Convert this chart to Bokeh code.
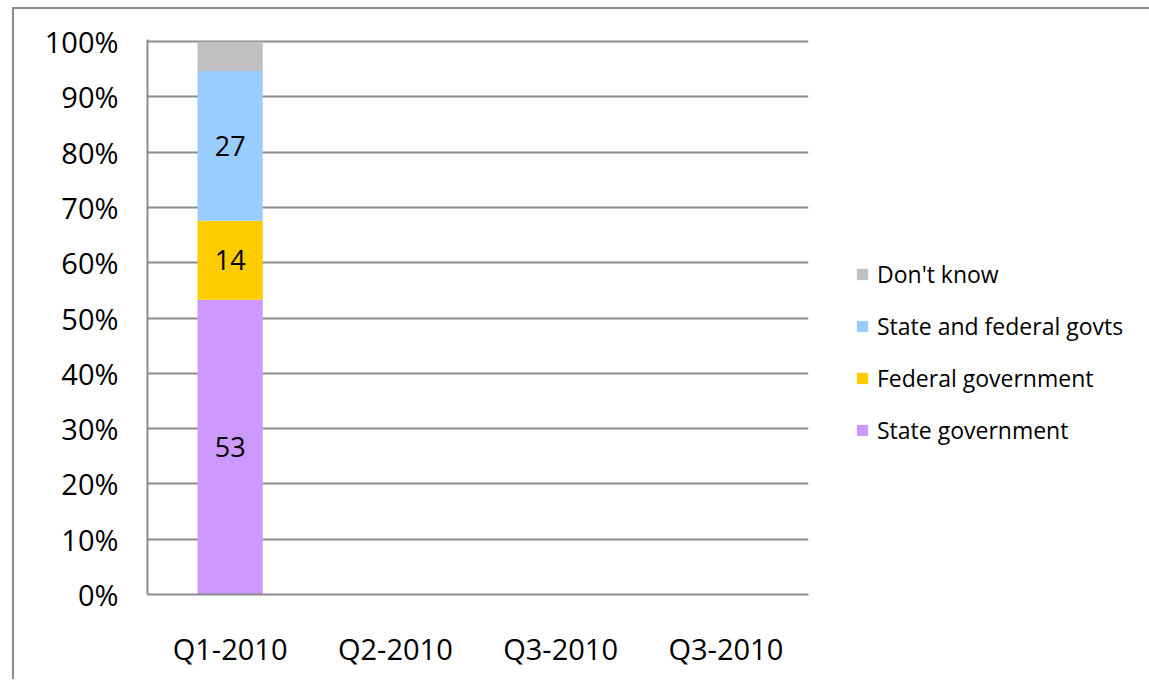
from bokeh.plotting import figure
from bokeh.models import (ColumnDataSource, Legend, LegendItem, FixedTicker,
                          PrintfTickFormatter, Range1d)
from bokeh.core.properties import value
from bokeh.embed import file_html
from bokeh.resources import INLINE

# ---- data ----
categories = ["Q1-2010", "Q2-2010", "Q3-2010", "Q3-2010"]
state_gov = [53.3, 0, 0, 0]
federal_gov = [14.3, 0, 0, 0]
state_and_federal = [27.1, 0, 0, 0]
dont_know = [5.3, 0, 0, 0]
series_names = ["State government", "Federal government",
                "State and federal govts", "Don't know"]
series_colors = ["#CC99FF", "#FFCC00", "#99CCFF", "#C0C0C0"]
y_ticks = [0, 10, 20, 30, 40, 50, 60, 70, 80, 90, 100]

FONT = "Open Sans"

xpos = [i + 0.5 for i in range(len(categories))]
keys = ["s0", "s1", "s2", "s3"]
source = ColumnDataSource(dict(x=xpos, s0=state_gov, s1=federal_gov,
                               s2=state_and_federal, s3=dont_know))

p = figure(frame_width=661, frame_height=555, output_backend="svg",
           toolbar_location=None,
           x_range=Range1d(0, len(categories)), y_range=Range1d(0, 100.4),
           min_border_left=133, min_border_top=30, min_border_right=341,
           min_border_bottom=85)
p.styles = {"margin-left": "12px", "margin-top": "7px",
            "border-top": "2px solid #8c8c8c",
            "border-left": "2px solid #8c8c8c",
            "border-right": "none", "border-bottom": "none"}

renderers = p.vbar_stack(keys, x="x", width=0.395, source=source,
                         color=series_colors, line_color=None)

# data labels (centers of segments)
lab_x, lab_y, lab_t = [], [], []
series_vals = [state_gov, federal_gov, state_and_federal]
for i in range(len(categories)):
    base = 0
    for vals in series_vals:
        v = vals[i]
        if v > 0:
            lab_x.append(xpos[i])
            lab_y.append(base + v / 2)
            lab_t.append(str(int(round(v))))
        base += v
p.text(x=lab_x, y=lab_y, text=lab_t, text_align="center",
       text_baseline="middle", text_font=value(FONT), text_font_size="27px",
       text_color="#000000")

# axes
p.xaxis.ticker = FixedTicker(ticks=xpos)
p.xaxis.major_label_overrides = {x: c for x, c in zip(xpos, categories)}
p.yaxis.ticker = FixedTicker(ticks=y_ticks)
p.yaxis.formatter = PrintfTickFormatter(format="%d%%")
for ax in (p.xaxis, p.yaxis):
    ax.axis_line_color = "#8c8c8c"
    ax.axis_line_width = 2
    ax.major_tick_line_color = None
    ax.minor_tick_line_color = None
    ax.major_label_text_font = FONT
    ax.major_label_text_font_size = "29px"
    ax.major_label_text_color = "#000000"
p.yaxis.major_label_standoff = 23
p.xaxis.major_label_standoff = 28

p.xgrid.grid_line_color = None
p.ygrid.grid_line_color = "#8c8c8c"
p.ygrid.grid_line_width = 2
p.outline_line_color = None

items = [LegendItem(label=series_names[k], renderers=[renderers[k]])
         for k in [3, 2, 1, 0]]
legend = Legend(items=items, location=(47, 148), padding=0, margin=0,
                glyph_width=14, glyph_height=14, label_height=20,
                spacing=20, label_standoff=8, border_line_color=None,
                background_fill_alpha=0, label_text_font=FONT,
                label_text_font_size="23px", label_text_color="#000000")
p.add_layout(legend, "right")

open("out.html", "w").write(file_html(p, INLINE))
